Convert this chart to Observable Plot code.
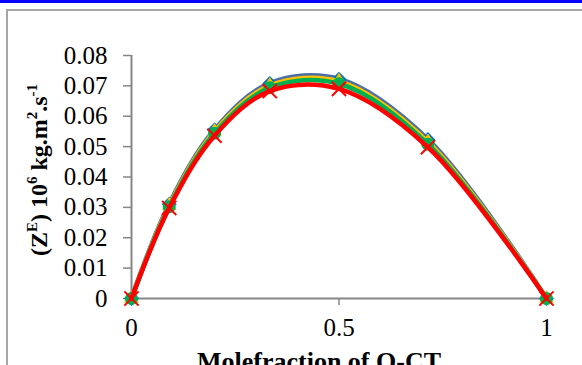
<!DOCTYPE html>
<html>
<head>
<meta charset="utf-8">
<script src="https://cdn.jsdelivr.net/npm/d3@7"></script>
<script src="https://cdn.jsdelivr.net/npm/@observablehq/plot@0.6"></script>
<style>
  html, body { margin: 0; padding: 0; background: #fff; overflow: hidden; }
  #wrap { position: relative; width: 582px; height: 365px; overflow: hidden; }
  #topbar { position: absolute; left: 0; top: 0; width: 582px; height: 3px; background: #0000ff; }
  #frame { position: absolute; left: 6px; top: 9px; width: 600px; height: 400px; border: 2px solid #a6a6a6; box-sizing: border-box; }
  #chart { position: absolute; left: 0; top: 0; }
</style>
</head>
<body>
<div id="wrap">
  <div id="topbar"></div>
  <div id="frame"></div>
  <div id="chart"></div>
</div>
<script>
const moleFraction = [0, 0.0909, 0.2, 0.3333, 0.5, 0.7143, 1];
const seriesNames = ["S1", "S2", "S3", "S4"];
const series1 = [0, 0.0310, 0.0555, 0.0708, 0.0722, 0.0523, 0];
const series2 = [0, 0.0306, 0.0550, 0.0701, 0.0715, 0.0516, 0];
const series3 = [0, 0.0302, 0.0544, 0.0694, 0.0707, 0.0508, 0];
const series4 = [0, 0.0298, 0.0536, 0.0683, 0.0690, 0.0498, 0];
const yTicks = [0, 0.01, 0.02, 0.03, 0.04, 0.05, 0.06, 0.07, 0.08];
const xTicks = [0, 0.5, 1];

const allValues = [series1, series2, series3, series4];
const rows = [];
allValues.forEach((vals, i) => vals.forEach((v, j) => rows.push({s: seriesNames[i], x: moleFraction[j], y: v})));
const bySeries = name => rows.filter(r => r.s === name);

const lineColors = ["#4a6fa8", "#ffc000", "#00b050", "#ff0000"];
const font = "'Liberation Serif', 'Times New Roman', serif";

const plot = Plot.plot({
  width: 582,
  height: 365,
  marginLeft: 131,
  marginRight: 36,
  marginTop: 55,
  marginBottom: 67,
  style: { fontFamily: font, fontSize: "25px", color: "#000", background: "transparent", overflow: "visible" },
  x: { domain: [0, 1] },
  y: { domain: [0, 0.08] },
  marks: [
    Plot.ruleX([0], { stroke: "#868686", strokeWidth: 2 }),
    Plot.ruleY([0], { stroke: "#868686", strokeWidth: 2 }),
    Plot.axisY({ ticks: yTicks, tickSize: 8, tickPadding: 16, stroke: "#868686", strokeWidth: 1.5, fill: "#000", fontSize: 25, label: null, tickFormat: d => d === 0 ? "0" : d3.format(".2f")(d) }),
    Plot.axisX({ ticks: xTicks, tickSize: 7, tickPadding: 13, stroke: "#868686", strokeWidth: 1.5, fill: "#000", fontSize: 25, label: null, tickFormat: d => String(d) }),
    Plot.line(bySeries("S1"), { x: "x", y: "y", curve: "catmull-rom", stroke: lineColors[0], strokeWidth: 5 }),
    Plot.dot(bySeries("S1"), { x: "x", y: "y", symbol: "diamond2", r: 5.5, fill: "#ffc000", stroke: "#0070c0", strokeWidth: 2 }),
    Plot.line(bySeries("S2"), { x: "x", y: "y", curve: "catmull-rom", stroke: lineColors[1], strokeWidth: 4.5 }),
    Plot.dot(bySeries("S2"), { x: "x", y: "y", symbol: "triangle", r: 5, fill: "#ffc000", stroke: "#ffc000", strokeWidth: 1 }),
    Plot.line(bySeries("S3"), { x: "x", y: "y", curve: "catmull-rom", stroke: lineColors[2], strokeWidth: 4.5 }),
    Plot.dot(bySeries("S3"), { x: "x", y: "y", symbol: "circle", r: 6.5, fill: "#00b050", stroke: "none" }),
    Plot.line(bySeries("S4"), { x: "x", y: "y", curve: "catmull-rom", stroke: lineColors[3], strokeWidth: 4.5 }),
    Plot.dot(bySeries("S4"), { x: "x", y: "y", symbol: "times", r: 6.5, stroke: "#ff0000", strokeWidth: 2 })
  ]
});
document.getElementById("chart").appendChild(plot);

const svg = d3.select(plot);
// x-axis title (cut off at the bottom edge, as in the reference)
svg.append("text")
  .attr("x", 319).attr("y", 370)
  .attr("text-anchor", "middle")
  .attr("font-family", font).attr("font-weight", "bold").attr("font-size", 26)
  .attr("fill", "#000")
  .text("Molefraction of O-CT");
// y-axis title with superscripts
const yt = svg.append("text")
  .attr("transform", "translate(47,170) rotate(-90)")
  .attr("text-anchor", "middle")
  .attr("font-family", font).attr("font-weight", "bold").attr("font-size", 24)
  .attr("fill", "#000");
yt.append("tspan").text("(Z");
yt.append("tspan").attr("font-size", 15).attr("dy", -10).text("E");
yt.append("tspan").attr("dy", 10).text(") 10");
yt.append("tspan").attr("font-size", 15).attr("dy", -10).text("6");
yt.append("tspan").attr("dy", 10).text(" kg.m");
yt.append("tspan").attr("font-size", 15).attr("dy", -10).text("2");
yt.append("tspan").attr("dy", 10).text(".s");
yt.append("tspan").attr("font-size", 15).attr("dy", -10).text("-1");
</script>
</body>
</html>
